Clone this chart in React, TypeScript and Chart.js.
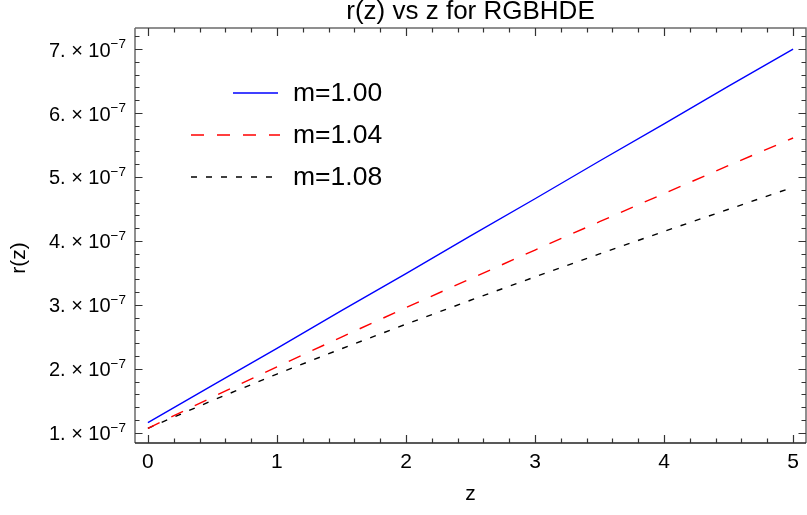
import React, { useEffect, useRef } from "react";
import { Chart, registerables } from "chart.js";

Chart.register(...registerables);

// Redshift grid and r(z) curves for three values of m
const zValues = [0, 0.5, 1, 1.5, 2, 2.5, 3, 3.5, 4, 4.5, 5];
const rM100 = [1.16e-7, 1.74e-7, 2.32e-7, 2.91e-7, 3.49e-7, 4.08e-7, 4.66e-7, 5.25e-7, 5.83e-7, 6.42e-7, 7.0e-7];
const rM104 = [1.07e-7, 1.557e-7, 2.032e-7, 2.497e-7, 2.956e-7, 3.409e-7, 3.858e-7, 4.301e-7, 4.741e-7, 5.179e-7, 5.61e-7];
const rM108 = [1.07e-7, 1.505e-7, 1.918e-7, 2.314e-7, 2.698e-7, 3.072e-7, 3.438e-7, 3.797e-7, 4.149e-7, 4.495e-7, 4.84e-7];

const seriesLabels = ["m=1.00", "m=1.04", "m=1.08"];
const seriesColors = ["#0000ff", "#ff0000", "#000000"];
const seriesDashes: number[][] = [[], [13, 13], [6, 9]];

const xTickValues = [0, 1, 2, 3, 4, 5];
const yTickValues = [1e-7, 2e-7, 3e-7, 4e-7, 5e-7, 6e-7, 7e-7];
const yTickMantissas = ["1.", "2.", "3.", "4.", "5.", "6.", "7."];
const yTickExponent = "\u22127";

const titleText = "r(z) vs z for RGBHDE";
const xTitle = "z";
const yTitle = "r(z)";

const FONT = "'Liberation Sans', Arial, Helvetica, sans-serif";

const toPoints = (ys: number[]) => zValues.map((z, i) => ({ x: z, y: ys[i] }));

const framePlugin = {
  id: "mmaFrame",
  afterDatasetsDraw(chart: any) {
    const { ctx, chartArea: a, scales } = chart;
    const xs = scales.x;
    const ys = scales.y;
    ctx.save();

    // frame
    ctx.lineWidth = 1.5;
    ctx.strokeStyle = "#6b6b6b";
    ctx.beginPath();
    ctx.moveTo(a.left, a.top);
    ctx.lineTo(a.right, a.top);
    ctx.lineTo(a.right, a.bottom);
    ctx.moveTo(a.left, a.top);
    ctx.lineTo(a.left, a.bottom);
    ctx.stroke();
    ctx.strokeStyle = "#222";
    ctx.beginPath();
    ctx.moveTo(a.left, a.bottom);
    ctx.lineTo(a.right, a.bottom);
    ctx.stroke();

    // x ticks (bottom and top, pointing inward)
    ctx.lineWidth = 1.2;
    ctx.strokeStyle = "#333";
    for (let k = -1; k <= 26; k++) {
      const v = Math.round(k * 0.2 * 10) / 10;
      if (v < xs.min || v > xs.max) continue;
      const major = Math.abs(v - Math.round(v)) < 1e-9;
      const len = major ? 8 : 4.5;
      const px = Math.round(xs.getPixelForValue(v)) + 0.5;
      ctx.beginPath();
      ctx.moveTo(px, a.bottom);
      ctx.lineTo(px, a.bottom - len);
      ctx.moveTo(px, a.top);
      ctx.lineTo(px, a.top + len);
      ctx.stroke();
    }

    // y ticks (left and right)
    for (let k = 0; k <= 40; k++) {
      const v = k * 0.2e-7;
      if (v < ys.min || v > ys.max) continue;
      const major = k % 5 === 0;
      const len = major ? 7.5 : 4.5;
      const py = Math.round(ys.getPixelForValue(v)) + 0.5;
      ctx.beginPath();
      ctx.moveTo(a.left, py);
      ctx.lineTo(a.left + len, py);
      ctx.moveTo(a.right, py);
      ctx.lineTo(a.right - len, py);
      ctx.stroke();
    }

    // y tick labels: "n. × 10^-7"
    ctx.fillStyle = "#000";
    ctx.textBaseline = "alphabetic";
    ctx.textAlign = "left";
    const mainFont = `20px ${FONT}`;
    const supFont = `13.5px ${FONT}`;
    yTickValues.forEach((v, i) => {
      const py = ys.getPixelForValue(v);
      const main = `${yTickMantissas[i]} \u00d7 10`;
      ctx.font = mainFont;
      const wMain = ctx.measureText(main).width;
      ctx.font = supFont;
      const wSup = ctx.measureText(yTickExponent).width;
      const right = a.left - 9;
      const x0 = right - wMain - wSup;
      const base = py + 7.5;
      ctx.font = mainFont;
      ctx.fillText(main, x0, base);
      ctx.font = supFont;
      ctx.fillText(yTickExponent, x0 + wMain, base - 8.5);
    });

    // title and axis titles
    ctx.textAlign = "center";
    ctx.font = `26px ${FONT}`;
    ctx.fillText(titleText, (a.left + a.right) / 2, 19);
    ctx.font = `21px ${FONT}`;
    ctx.fillText(xTitle, (a.left + a.right) / 2, 500);
    ctx.save();
    ctx.translate(25, 258);
    ctx.rotate(-Math.PI / 2);
    ctx.fillText(yTitle, 0, 0);
    ctx.restore();

    // legend
    const legendRows = [
      { x0: 233, x1: 278, y: 93 },
      { x0: 191, x1: 280, y: 135 },
      { x0: 191, x1: 277, y: 177 },
    ];
    legendRows.forEach((row, i) => {
      ctx.strokeStyle = seriesColors[i];
      ctx.lineWidth = 1.4;
      ctx.setLineDash(seriesDashes[i]);
      ctx.beginPath();
      ctx.moveTo(row.x0, row.y);
      ctx.lineTo(row.x1, row.y);
      ctx.stroke();
      ctx.setLineDash([]);
      ctx.fillStyle = "#000";
      ctx.textAlign = "left";
      ctx.textBaseline = "middle";
      ctx.font = `26.5px ${FONT}`;
      ctx.fillText(seriesLabels[i], 293, row.y + 1);
    });

    ctx.restore();
  },
};

export default function App() {
  const canvasRef = useRef<HTMLCanvasElement | null>(null);

  useEffect(() => {
    document.body.style.margin = "0";
    const canvas = canvasRef.current;
    if (!canvas) return;
    const seriesValues = [rM100, rM104, rM108];
    const chart = new Chart(canvas, {
      type: "line",
      data: {
        datasets: seriesValues.map((vals, i) => ({
          label: seriesLabels[i],
          data: toPoints(vals),
          borderColor: seriesColors[i],
          borderWidth: 1.4,
          borderDash: seriesDashes[i],
          pointRadius: 0,
          tension: 0,
          fill: false,
        })),
      },
      options: {
        responsive: false,
        animation: false,
        devicePixelRatio: 1,
        layout: { padding: { top: 28, right: 1, left: 0, bottom: 0 } },
        plugins: {
          legend: { display: false },
          title: { display: false },
          tooltip: { enabled: false },
        },
        scales: {
          x: {
            type: "linear",
            min: -0.1,
            max: 5.1,
            grid: { display: false },
            border: { display: false },
            afterBuildTicks: (scale: any) => {
              scale.ticks = xTickValues.map((v) => ({ value: v }));
            },
            afterFit: (scale: any) => {
              scale.height = 72;
            },
            ticks: {
              color: "#000",
              font: { family: FONT, size: 21 },
              padding: -1,
              maxRotation: 0,
              autoSkip: false,
              callback: (v: any) => String(v),
            },
          },
          y: {
            type: "linear",
            min: 0.84e-7,
            max: 7.33e-7,
            grid: { display: false },
            border: { display: false },
            afterFit: (scale: any) => {
              scale.width = 135;
            },
            ticks: { display: false },
          },
        },
      },
      plugins: [framePlugin],
    });
    return () => chart.destroy();
  }, []);

  return (
    <div style={{ width: 807, height: 515 }}>
      <canvas ref={canvasRef} width={807} height={515} style={{ display: "block" }} />
    </div>
  );
}
